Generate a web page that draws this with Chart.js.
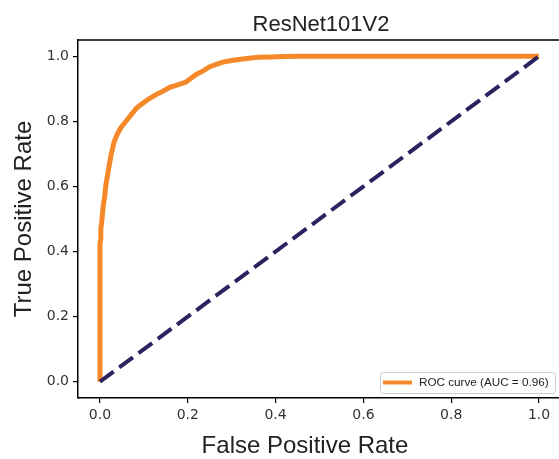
<!DOCTYPE html>
<html>
<head>
<meta charset="utf-8">
<script src="https://cdn.jsdelivr.net/npm/chart.js@4/dist/chart.umd.min.js"></script>
<style>
  html, body { margin: 0; padding: 0; overflow: hidden; background: #fff; }
  canvas { display: block; }
</style>
</head>
<body>
<canvas id="rocChart" width="700" height="459"></canvas>
<script>
// ROC-kurve (false positive rate / true positive rate)
const fpr = [0, 0, 0.002, 0.002, 0.004, 0.006, 0.008, 0.011, 0.013, 0.016,
             0.019, 0.022, 0.025, 0.028, 0.032, 0.036, 0.040, 0.045, 0.050, 0.056,
             0.062, 0.068, 0.075, 0.083, 0.092, 0.100, 0.110, 0.120, 0.130, 0.140,
             0.150, 0.160, 0.172, 0.185, 0.195, 0.205, 0.220, 0.235, 0.250, 0.265,
             0.280, 0.300, 0.320, 0.340, 0.360, 0.390, 0.420, 0.450, 0.500, 1.0];
const tpr = [0, 0.424, 0.44, 0.47, 0.49, 0.52, 0.545, 0.57, 0.60, 0.625,
             0.648, 0.672, 0.695, 0.712, 0.735, 0.75, 0.762, 0.775, 0.785, 0.795,
             0.805, 0.815, 0.827, 0.840, 0.850, 0.858, 0.868, 0.876, 0.884, 0.890,
             0.898, 0.905, 0.91, 0.916, 0.92, 0.93, 0.945, 0.955, 0.968, 0.975,
             0.982, 0.987, 0.991, 0.994, 0.997, 0.998, 0.999, 1.0, 1.0, 1.0];

// Tilfældig klassifikator (diagonalen)
const chanceX = [0, 1];
const chanceY = [0, 1];

const rocLabel = 'ROC curve (AUC = 0.96)';
const chartTitle = 'ResNet101V2';
const xLabel = 'False Positive Rate';
const yLabel = 'True Positive Rate';
const axisTicks = [0, 0.2, 0.4, 0.6, 0.8, 1.0];

const ORANGE = '#f5892a';
const NAVY = '#2e2160';
const LABEL_FONT = '"Liberation Sans", Arial, sans-serif';
const TICK_FONT = '"DejaVu Sans", sans-serif';

// Tegner titel, x-label, topkant og legend-boksen
const decorations = {
    id: 'decorations',
    afterDraw(chart) {
        const { ctx, chartArea: a } = chart;
        ctx.save();

        // topkant af plottet
        ctx.strokeStyle = '#000';
        ctx.lineWidth = 1.5;
        ctx.beginPath();
        ctx.moveTo(a.left, a.top);
        ctx.lineTo(a.right, a.top);
        ctx.stroke();

        // titel
        ctx.fillStyle = '#222';
        ctx.textAlign = 'center';
        ctx.textBaseline = 'alphabetic';
        ctx.font = '22px ' + LABEL_FONT;
        ctx.fillText(chartTitle, 321, 31);

        // x-label
        ctx.font = '24px ' + LABEL_FONT;
        ctx.fillText(xLabel, 305, 453);

        // legend
        const ds = chart.data.datasets.find(d => d.label === rocLabel);
        const bx = 380, by = 372, bw = 175, bh = 21;
        ctx.fillStyle = 'rgba(255,255,255,0.8)';
        ctx.strokeStyle = '#cccccc';
        ctx.lineWidth = 1;
        ctx.beginPath();
        ctx.roundRect(bx + 0.5, by + 0.5, bw, bh, 3);
        ctx.fill();
        ctx.stroke();

        ctx.strokeStyle = ds.borderColor;
        ctx.lineWidth = 4;
        ctx.beginPath();
        ctx.moveTo(383, 382.5);
        ctx.lineTo(412, 382.5);
        ctx.stroke();

        ctx.fillStyle = '#222';
        ctx.textAlign = 'left';
        ctx.textBaseline = 'middle';
        ctx.font = '11.7px ' + LABEL_FONT;
        ctx.fillText(ds.label, 419, 383);

        ctx.restore();
    }
};

function setTicks(scale) {
    scale.ticks = axisTicks.map(v => ({ value: v }));
}

const tickOptions = {
    color: '#333',
    font: { family: TICK_FONT, size: 14 },
    padding: 4,
    callback: v => v.toFixed(1)
};

const gridOptions = {
    drawOnChartArea: false,
    drawTicks: true,
    tickLength: 5,
    color: '#000',
    lineWidth: 1.2
};

new Chart(document.getElementById('rocChart'), {
    type: 'scatter',
    data: {
        datasets: [
            {
                label: 'chance',
                data: chanceX.map((x, i) => ({ x, y: chanceY[i] })),
                showLine: true,
                borderColor: NAVY,
                borderWidth: 4,
                borderDash: [17, 7],
                pointRadius: 0,
                order: 0
            },
            {
                label: rocLabel,
                data: fpr.map((x, i) => ({ x, y: tpr[i] })),
                showLine: true,
                borderColor: ORANGE,
                borderWidth: 5,
                pointRadius: 0,
                order: 1
            }
        ]
    },
    options: {
        responsive: false,
        animation: false,
        devicePixelRatio: 1,
        // plottets højre kant ligger lige uden for det synlige vindue
        layout: { padding: { top: 40, left: 0, right: 139, bottom: 0 } },
        plugins: {
            legend: { display: false },
            tooltip: { enabled: false }
        },
        scales: {
            x: {
                type: 'linear',
                min: -0.05,
                max: 1.05,
                afterBuildTicks: setTicks,
                afterFit: s => { s.height = 61; },
                ticks: tickOptions,
                grid: gridOptions,
                border: { display: true, color: '#000', width: 1.5 }
            },
            y: {
                type: 'linear',
                min: -0.05,
                max: 1.05,
                afterBuildTicks: setTicks,
                afterFit: s => { s.width = 78; },
                ticks: tickOptions,
                grid: gridOptions,
                border: { display: true, color: '#000', width: 1.5 },
                title: {
                    display: true,
                    text: yLabel,
                    color: '#222',
                    font: { family: LABEL_FONT, size: 24 },
                    padding: { top: 10, bottom: 0 }
                }
            }
        }
    },
    plugins: [decorations]
});
</script>
</body>
</html>
